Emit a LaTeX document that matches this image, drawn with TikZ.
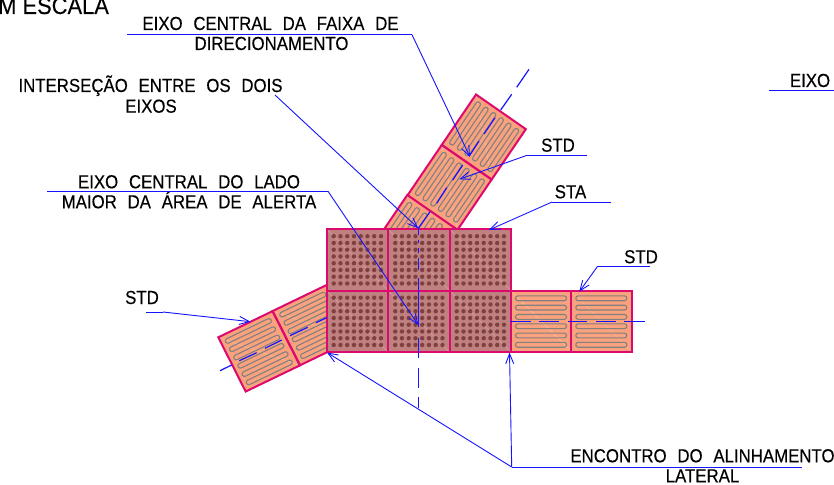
\documentclass[tikz,border=0pt]{standalone}
\usepackage{fontspec}
\usetikzlibrary{arrows.meta}
\newfontfamily\cadfont[FakeStretch=0.89,WordSpace=2.3,FakeBold=0.3]{Liberation Sans}
\newfontfamily\cadtitle[FakeStretch=0.92,FakeBold=0.2]{Liberation Sans}
\definecolor{tilefill}{HTML}{F9A27D}
\definecolor{tileedge}{HTML}{DC0A6C}
\definecolor{capsule}{HTML}{808080}
\definecolor{alertfill}{HTML}{BF8080}
\definecolor{alertdot}{HTML}{804040}
\definecolor{leader}{HTML}{1414FF}
\tikzset{
  lbl/.style={font=\cadfont\fontsize{18.9}{18.9}\selectfont,anchor=base,inner sep=0pt,text=black},
  lead/.style={draw=leader,line width=0.9pt},
  leadarrow/.style={lead,-{Straight Barb[length=10pt,width=8pt,line width=0.9pt]}},
  axisline/.style={draw=leader,line width=1.2pt},
  tileborder/.style={draw=tileedge,line width=2pt,line join=miter},
  capsuleline/.style={draw=capsule,line width=1.1pt,rounded corners=2.3pt},
  faint/.style={draw=white,line width=0.4pt,opacity=0.3}
}
% std tile: origin, unit vector along the axis, unit vector across it
\newcommand{\stdtile}[6]{%
  \begin{scope}[shift={(#1,#2)},x={(#3pt,-#4pt)},y={(#5pt,-#6pt)}]
    \fill[tilefill] (0,0) -- (60.8,0) -- (60.8,60.8) -- (0,60.8) -- cycle;
    \draw[faint] (0,0) -- (60.8,60.8);
    \foreach \r in {7.3,16.6,25.9,35.2,44.5,53.8}
      {\draw[capsuleline] (4.5,\r-2.4) -- (55.5,\r-2.4) -- (55.5,\r+2.4) -- (4.5,\r+2.4) -- cycle;}
    \draw[tileborder] (0,0) -- (60.8,0) -- (60.8,60.8) -- (0,60.8) -- cycle;
  \end{scope}}
\newcommand{\alerttile}[2]{%
  \begin{scope}[shift={(#1,#2)}]
    \fill[alertfill] (0,0) rectangle (61.5,61.5);
    \draw[faint] (0,0) -- (61.5,61.5);
    \foreach \i in {0,...,7}{\foreach \j in {0,...,7}{
      \fill[alertdot] (7.2+6.75*\i,7.2+6.75*\j) circle (2.2pt);}}
    \draw[tileborder] (0,0) rectangle (61.5,61.5);
  \end{scope}}
\begin{document}
\begin{tikzpicture}[x=1pt,y=-1pt]
\clip (0,0) rectangle (834,484);
\fill[white] (0,0) rectangle (834,484);

% upper arm
\stdtile{476}{94.5}{-0.562}{0.828}{0.82}{0.57}
\stdtile{441.7}{145}{-0.562}{0.828}{0.82}{0.57}
\stdtile{407.3}{195}{-0.562}{0.828}{0.82}{0.57}
% left arm
\stdtile{218.3}{337.3}{0.892}{-0.43}{0.45}{0.892}
\stdtile{272.7}{311}{0.892}{-0.43}{0.45}{0.892}
% right arm
\stdtile{511}{291}{1}{0}{0}{1}
\stdtile{571.3}{291}{1}{0}{0}{1}
% alert area
\foreach \x in {326.5,388,449.5}{\foreach \y in {229,290.5}{
  \alerttile{\x}{\y}}}

% axes
\foreach \a/\b/\c/\d in {529/69.3/516.7/87.3,511.7/94.3/500.7/110,495/117.7/484/134,479/141/469.3/156,462.7/165/452.7/180,446.7/187.7/436.7/203.3,430/211.7/418.3/228.3,
  418.3/228/418.3/235,418.3/240/418.3/243,418.3/248/418.3/253,418.3/258/418.3/270,418.3/278/418.3/327,418.3/338/418.3/358,418.3/368/418.3/388,418.3/397/418.3/408,
  510/321.3/530.7/321.3,539.3/321.3/559.3/321.3,568.3/321.3/587.3/321.3,596/321.3/615.7/321.3,624.3/321.3/645/321.3,
  220/370.7/231.7/365,239.3/360.7/256.7/352.7,265/348.3/281.7/340,290/335.7/307.7/327.3,316/322.7/326.7/317.7}
  {\draw[axisline] (\a,\b) -- (\c,\d);}

% labels
\node[anchor=base west,inner sep=0pt,font=\cadtitle\fontsize{23.8}{23.8}\selectfont,text=black] (title) at (-2,14) {M ESCALA};
\node[lbl] (eixoA) at (270.5,30) {EIXO CENTRAL DA FAIXA DE};
\node[lbl] (eixoB) at (271.5,50) {DIRECIONAMENTO};
\node[lbl] (interA) at (150.5,92) {INTERSEÇÃO ENTRE OS DOIS};
\node[lbl] (interB) at (151,112.7) {EIXOS};
\node[lbl] (ladoA) at (189,188.3) {EIXO CENTRAL DO LADO};
\node[lbl] (ladoB) at (189,208.3) {MAIOR DA ÁREA DE ALERTA};
\node[lbl] (stdtop) at (558,151.7) {STD};
\node[lbl] (sta) at (570.5,198.3) {STA};
\node[lbl] (stdright) at (641,263.3) {STD};
\node[lbl] (stdleft) at (142,304) {STD};
\node[lbl] (encA) at (702.5,462.3) {ENCONTRO DO ALINHAMENTO};
\node[lbl] (encB) at (702.5,482.3) {LATERAL};
\node[lbl] (eixoR) at (810,87) {EIXO};

% leader anchors
\coordinate (t1) at (470,157);
\coordinate (t2) at (418.3,228.3);
\coordinate (t3) at (418.3,325);
\coordinate (t4) at (459.3,179.3);
\coordinate (t5) at (489,230);
\coordinate (t6) at (579.3,291.7);
\coordinate (t7) at (250.5,321.7);
\coordinate (t8) at (327,352.5);
\coordinate (t9) at (509.5,352.5);
\coordinate (knee) at (511.7,467);

\draw[lead] (127,34.7) -- (412,34.7);
\draw[leadarrow] (412,34.7) -- (t1);
\draw[leadarrow] (275,95) -- (t2);
\draw[lead] (47,191.3) -- (328,191.3);
\draw[leadarrow] (328,191.3) -- (t3);
\draw[lead] (587,155.3) -- (527,155.3);
\draw[leadarrow] (527,155.3) -- (t4);
\draw[lead] (611,202) -- (552,202);
\draw[leadarrow] (552,202) -- (t5);
\draw[lead] (650,266.7) -- (597.3,266.7);
\draw[leadarrow] (597.3,266.7) -- (t6);
\draw[lead] (146,312) -- (163,312);
\draw[leadarrow] (163,312) -- (t7);
\draw[lead] (801.7,467) -- (knee);
\draw[leadarrow] (knee) -- (t8);
\draw[leadarrow] (knee) -- (t9);
\draw[lead] (769,90) -- (834,90);
\end{tikzpicture}
\end{document}
